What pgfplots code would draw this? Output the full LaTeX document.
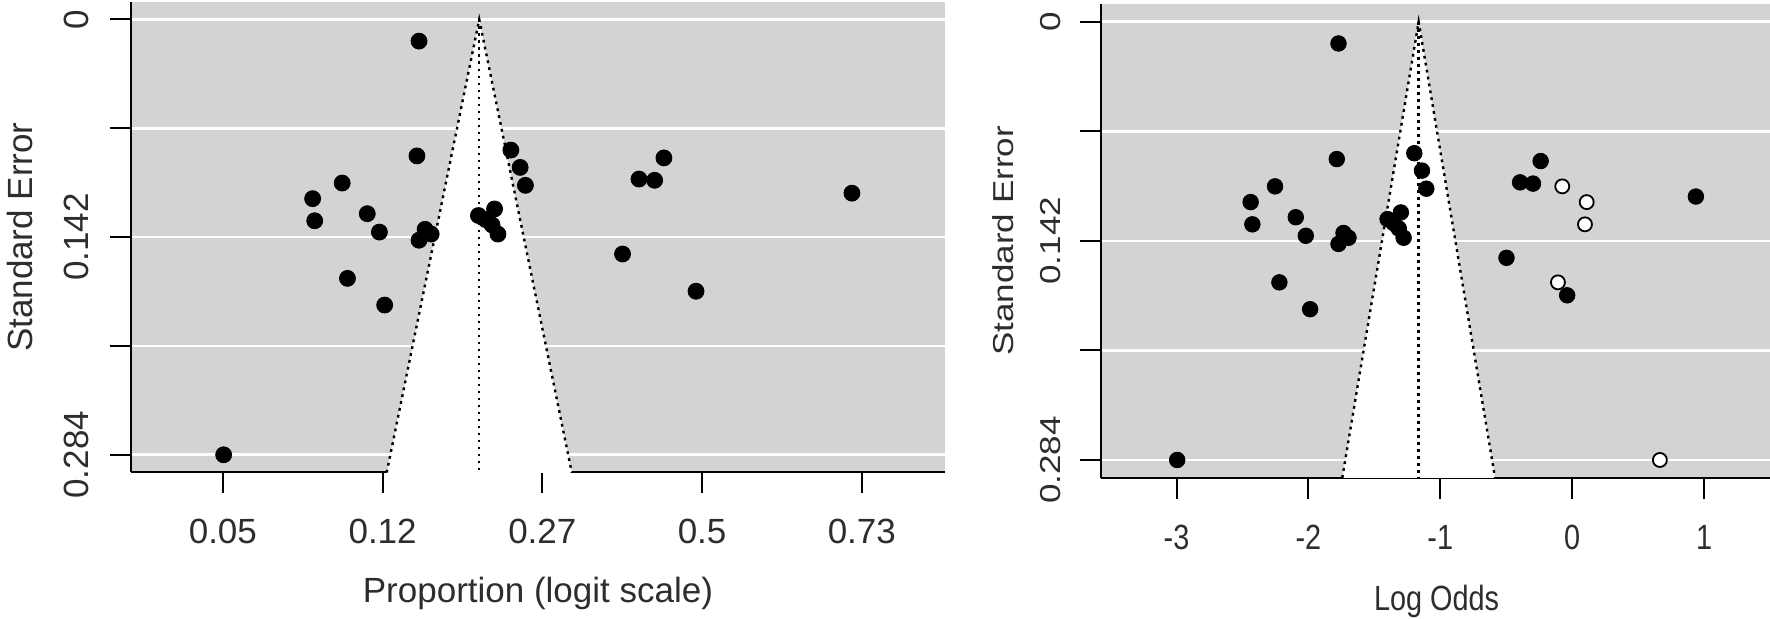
\documentclass[border=0pt]{standalone}
\usepackage{fontspec}
\setmainfont{Liberation Sans}
\usepackage{pgfplots}
\pgfplotsset{compat=1.18}
\usepackage{pgfplotstable}

\definecolor{bggrey}{RGB}{211,211,211}
\definecolor{txt}{RGB}{45,45,45}

% observed studies: logit proportion, standard error
\pgfplotstableread{
x y
-1.772 0.0141
-1.785 0.0890
-2.253 0.1067
-2.438 0.1169
-2.425 0.1313
-2.096 0.1267
-2.020 0.1387
-1.772 0.1440
-1.734 0.1369
-1.696 0.1400
-2.220 0.1689
-1.987 0.1863
-2.995 0.2840
-1.400 0.1279
-1.299 0.1236
-1.355 0.1305
-1.315 0.1340
-1.278 0.1400
-1.197 0.0852
-1.139 0.0965
-1.106 0.1082
-0.239 0.0903
-0.395 0.1041
-0.297 0.1049
0.938 0.1133
-0.498 0.1530
-0.038 0.1773
}\obsdata

% filled (imputed) studies
\pgfplotstableread{
x y
-0.075 0.1067
0.110 0.1169
0.097 0.1313
-0.108 0.1689
0.665 0.2840
}\filldata

\tikzset{
  lab/.style={font=\fontsize{17.5}{21}\selectfont, text=txt, inner sep=0pt},
  dotline/.style={black, line width=1.2pt, dash pattern=on 1.4pt off 2.1pt},
}

\begin{document}
\begin{tikzpicture}[x=1pt,y=1pt]
\useasboundingbox (0,0) rectangle (885,309.5);
\pgfplotsset{
  funnel/.style={
    scale only axis,
    anchor=south west,
    xmin=-3.575, xmax=1.52,
    ymin=-0.01136, ymax=0.29536,
    y dir=reverse,
    axis x line*=bottom, axis y line*=left,
    axis line style={black, line width=1pt},
    axis background/.style={fill=bggrey},
    xtick={-3,-2,-1,0,1},
    ytick={0,0.071,0.142,0.213,0.284},
    yticklabels={0,,0.142,,0.284},
    ymajorgrids, xmajorgrids=false,
    major grid style={white, line width=1.3pt},
    tick align=outside, major tick length=10.5pt,
    tick style={black, line width=1pt},
    every tick label/.append style={font=\fontsize{17.5}{21}\selectfont, text=txt, inner sep=0pt},
    clip=true,
  },
}

% ---------- left panel ----------
\begin{axis}[funnel,
  at={(65.5pt,73.4pt)}, width=406.95pt, height=235.05pt,
  xticklabels={0.05,0.12,0.27,0.5,0.73},
  xticklabel style={anchor=base, yshift=-25.05pt},
  yticklabel style={anchor=base, xshift=-10.5pt, rotate=90},
  xlabel={Proportion (logit scale)},
  ylabel={Standard Error},
  every axis x label/.style={lab, at={(axis description cs:0.5,-0.2782)}, anchor=base},
  every axis y label/.style={lab, at={(axis description cs:-0.1210,0.5)}, anchor=base, rotate=90},
]
\addplot[fill=white, draw=none] coordinates {(-1.983,0.30) (-1.395,0) (-0.807,0.30)} -- cycle;
\addplot[dotline] coordinates {(-1.983,0.30) (-1.395,0) (-0.807,0.30)};
\addplot[dotline] coordinates {(-1.395,0) (-1.395,0.30)};
\addplot[only marks, mark=*, mark size=4pt, black] table {\obsdata};
\end{axis}

% ---------- right panel ----------
\begin{axis}[funnel,
  at={(550.35pt,70.75pt)}, width=335.95pt, height=236.65pt,
  xticklabels={-3,-2,-1,0,1},
  xticklabel style={anchor=base, yshift=-25.4pt, xscale=0.824},
  yticklabel style={anchor=base, xshift=-9.85pt, xscale=0.824, rotate=90},
  xlabel={Log Odds},
  ylabel={Standard Error},
  every axis x label/.style={lab, at={(axis description cs:0.5,-0.2800)}, anchor=base, xscale=0.824},
  every axis y label/.style={lab, at={(axis description cs:-0.1301,0.5)}, anchor=base, xscale=0.824, rotate=90},
]
\addplot[fill=white, draw=none] coordinates {(-1.752,0.30) (-1.164,0) (-0.576,0.30)} -- cycle;
\addplot[dotline] coordinates {(-1.752,0.30) (-1.164,0) (-0.576,0.30)};
\addplot[dotline] coordinates {(-1.164,0) (-1.164,0.30)};
\addplot[only marks, mark=*, mark size=3.9pt, black] table {\obsdata};
\addplot[only marks, mark=*, mark size=3.5pt, mark options={fill=white, draw=black, line width=0.9pt}] table {\filldata};
\end{axis}
\end{tikzpicture}
\end{document}
